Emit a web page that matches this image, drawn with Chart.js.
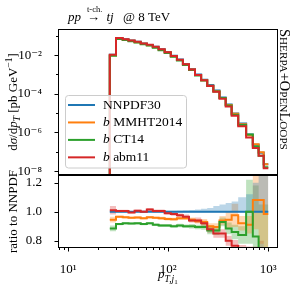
<!DOCTYPE html>
<html><head><meta charset="utf-8">
<script src="https://cdn.jsdelivr.net/npm/chart.js@4.4.1/dist/chart.umd.min.js"></script>
<style>
html,body{margin:0;padding:0;background:#fff;}
#wrap{position:relative;width:292px;height:292px;overflow:hidden;background:#fff;}
canvas{position:absolute;left:0;}
#top{top:0;}
#bot{top:100px;}
</style></head><body>
<div id="wrap"><canvas id="bot" width="292" height="192"></canvas><canvas id="top" width="292" height="175"></canvas></div>
<script>
// ---- data ----
const edges = [26, 30, 35, 40, 46, 53, 61, 70, 80, 92, 106, 122, 140, 161, 185, 213, 245, 282, 325, 375, 430, 500, 600, 700, 800, 900, 1000];
const nnpdfXsec = [0.0105, 0.0759, 0.0661, 0.0575, 0.0490, 0.0407, 0.0339, 0.0269, 0.0200, 0.0145, 0.00933, 0.00589, 0.00347, 0.00191, 0.00100, 5.4e-4, 2.9e-4, 1.5e-4, 6.5e-5, 2.8e-5, 9.5e-6, 2.9e-6, 7.8e-7, 2.3e-7, 8.9e-8, 2.3e-8];
const ratioNNPDF = [1,1,1,1,1,1,1,1,1,1,1,1,1,1,1,1,1,1,1,1,1,1,1,1,1,1];
const ratioMMHT = [0.945, 0.965, 0.962, 0.958, 0.960, 0.955, 0.962, 0.958, 0.955, 0.950, 0.948, 0.955, 0.955, 0.945, 0.935, 0.930, 0.900, 0.895, 0.940, 0.945, 0.975, 0.920, 0.910, 1.080, 1.080, 0.985];
const ratioCT14 = [0.885, 0.915, 0.920, 0.918, 0.920, 0.915, 0.920, 0.910, 0.905, 0.905, 0.900, 0.905, 0.900, 0.900, 0.895, 0.895, 0.870, 0.870, 0.930, 0.885, 0.860, 0.840, 1.000, 0.830, 0.700, 0.700];
const ratioABM11 = [1.010, 1.005, 1.005, 0.995, 1.007, 1.000, 1.015, 1.005, 1.005, 0.990, 0.985, 0.975, 0.965, 0.940, 0.940, 0.920, 0.880, 0.850, 0.850, 0.800, 0.765, 0.720, 0.700, 0.680, 0.700, 0.620];
const bandNNPDFHi = [1.005, 1.004, 1.004, 1.004, 1.004, 1.004, 1.004, 1.005, 1.005, 1.006, 1.007, 1.008, 1.010, 1.012, 1.016, 1.020, 1.025, 1.040, 1.050, 1.060, 1.070, 1.100, 1.120, 1.200, 1.300, 1.300];
const bandNNPDFLo = [0.995, 0.996, 0.996, 0.996, 0.996, 0.996, 0.996, 0.996, 0.996, 0.996, 0.995, 0.995, 0.995, 0.995, 0.995, 0.995, 0.995, 0.995, 0.995, 0.995, 0.995, 0.995, 0.995, 0.995, 0.995, 0.995];
const uncMMHT = [0.020, 0.008, 0.008, 0.008, 0.008, 0.008, 0.008, 0.008, 0.010, 0.010, 0.010, 0.012, 0.012, 0.015, 0.015, 0.020, 0.020, 0.025, 0.030, 0.060, 0.080, 0.050, 0.060, 0.200, 0.300, 0.300];
const uncCT14 = [0.020, 0.008, 0.008, 0.008, 0.008, 0.008, 0.008, 0.008, 0.010, 0.010, 0.010, 0.012, 0.012, 0.015, 0.015, 0.020, 0.025, 0.030, 0.030, 0.040, 0.050, 0.060, 0.220, 0.350, 0.350, 0.350];
const uncABM11 = [0.030, 0.008, 0.008, 0.008, 0.008, 0.008, 0.010, 0.010, 0.010, 0.010, 0.012, 0.012, 0.015, 0.015, 0.020, 0.020, 0.025, 0.030, 0.030, 0.035, 0.040, 0.050, 0.060, 0.080, 0.100, 0.100];
const seriesNames = ['NNPDF30', 'b MMHT2014', 'b CT14', 'b abm11'];
const xTickVals = [10, 100, 1000];
const xTickLabels = ['10\u00B9', '10\u00B2', '10\u00B3'];
const yTickVals = [1e-2, 1e-4, 1e-6, 1e-8];
const yTickLabels = ['10\u207B\u00B2', '10\u207B\u2074', '10\u207B\u2076', '10\u207B\u2078'];
const rTickVals = [0.8, 1.0, 1.2];
const rTickLabels = ['0.8', '1.0', '1.2'];

// ---- styles ----
const COLORS = ['#1f77b4', '#ff7f0e', '#2ca02c', '#d62728'];
const BANDS = ['rgba(31,119,180,0.3)', 'rgba(255,127,14,0.3)', 'rgba(44,160,44,0.3)', 'rgba(214,39,40,0.3)'];
const SERIF = '"Liberation Serif", "DejaVu Serif", serif';
const XMIN = 7.89, XMAX = 1241.6;
const LEFT = 58, RIGHTPAD = 14.3;

function stepPts(vals) {
  const p = vals.map((v, i) => ({x: edges[i], y: v}));
  p.push({x: edges[edges.length - 1], y: vals[vals.length - 1]});
  return p;
}
const ratios = [ratioNNPDF, ratioMMHT, ratioCT14, ratioABM11];
const uncs = [null, uncMMHT, uncCT14, uncABM11];
function noPad(s) { s.paddingTop = 0; s.paddingBottom = 0; s.paddingLeft = 0; s.paddingRight = 0; }

function drawRuns(ctx, x, y, runs) {
  for (const r of runs) { ctx.font = r.f; ctx.fillText(r.t, x, y + (r.dy || 0)); x += ctx.measureText(r.t).width; }
  return x;
}
function runsWidth(ctx, runs) {
  let w = 0; for (const r of runs) { ctx.font = r.f; w += ctx.measureText(r.t).width; } return w;
}
function frameTicks(chart, opts) {
  const {ctx, chartArea: a} = chart;
  ctx.save();
  ctx.strokeStyle = '#000'; ctx.lineWidth = 1;
  const L = Math.round(a.left), R = Math.round(a.right), T = Math.round(a.top), B = Math.round(a.bottom);
  ctx.strokeRect(L + 0.5, T + 0.5, R - L - 1, B - T - 1);
  const ys = chart.scales.y;
  ctx.beginPath();
  for (const t of ys.ticks) { const py = Math.round(ys.getPixelForValue(t.value)) + 0.5; ctx.moveTo(L - 3.5, py); ctx.lineTo(L, py); }
  if (opts.yMinor) for (const v of opts.yMinor) { const py = Math.round(ys.getPixelForValue(v)) + 0.5; ctx.moveTo(L - 2, py); ctx.lineTo(L, py); }
  if (opts.xTicks) {
    const xs = chart.scales.x;
    for (const t of xs.ticks) { const px = Math.round(xs.getPixelForValue(t.value)) + 0.5; ctx.moveTo(px, B); ctx.lineTo(px, B + 3.5); }
    for (let d = 1; d <= 1000; d *= 10) for (let m = 2; m <= 9; m++) {
      const v = d * m; if (v < XMIN || v > XMAX) continue;
      const px = Math.round(xs.getPixelForValue(v)) + 0.5; ctx.moveTo(px, B); ctx.lineTo(px, B + 2);
    }
  }
  ctx.stroke();
  ctx.restore();
}

// ---------------- top panel ----------------
const topDatasets = [];
for (let k = 3; k >= 0; k--) {
  const vals = nnpdfXsec.map((v, i) => v * ratios[k][i]);
  topDatasets.push({
    label: seriesNames[k], data: [{x: edges[0], y: 1e-12}].concat(stepPts(vals)),
    borderColor: COLORS[k], borderWidth: 2, pointRadius: 0, stepped: true, fill: false, clip: 0,
    borderJoinStyle: 'miter', order: 4 - k
  });
}
const topPlugin = {
  id: 'topdeco',
  afterDraw(chart) {
    frameTicks(chart, {yMinor: [1e-1, 1e-3, 1e-5, 1e-7]});
    const ctx = chart.ctx;
    ctx.save();
    ctx.fillStyle = '#000'; ctx.textAlign = 'left'; ctx.textBaseline = 'alphabetic';
    drawRuns(ctx, 68, 20.5, [{t: 'pp', f: 'italic 13px ' + SERIF}]);
    ctx.font = '13px ' + SERIF; ctx.fillText('\u2192', 87, 20.5);
    ctx.font = '8.5px ' + SERIF; ctx.fillText('t-ch.', 87, 11.5);
    drawRuns(ctx, 106.5, 20.5, [{t: 'tj', f: 'italic 13px ' + SERIF}]);
    drawRuns(ctx, 123, 20.5, [{t: '@ 8 TeV', f: '13px ' + SERIF}]);
    ctx.save();
    ctx.translate(17, 102); ctx.rotate(-Math.PI / 2);
    const yt = [
      {t: 'd', f: '13px ' + SERIF}, {t: '\u03C3', f: 'italic 13px ' + SERIF}, {t: '/d', f: '13px ' + SERIF},
      {t: 'p', f: 'italic 13px ' + SERIF}, {t: 'T', f: 'italic 9.5px ' + SERIF, dy: 3},
      {t: ' [pb GeV', f: '13px ' + SERIF}, {t: '\u22121', f: '9.5px ' + SERIF, dy: -5}, {t: ']', f: '13px ' + SERIF}
    ];
    drawRuns(ctx, -runsWidth(ctx, yt) / 2, 0, yt);
    ctx.restore();
    ctx.save();
    ctx.translate(280, 29); ctx.rotate(Math.PI / 2);
    const big = 13.5, small = 10.5;
    let rt = (b, s) => [
      {t: 'S', f: b + 'px ' + SERIF}, {t: 'HERPA', f: s + 'px ' + SERIF}, {t: '+', f: b + 'px ' + SERIF},
      {t: 'O', f: b + 'px ' + SERIF}, {t: 'PEN', f: s + 'px ' + SERIF}, {t: 'L', f: b + 'px ' + SERIF}, {t: 'OOPS', f: s + 'px ' + SERIF}
    ];
    const kk = 121 / runsWidth(ctx, rt(big, small));
    drawRuns(ctx, 0, 0, rt(big * kk, small * kk));
    ctx.restore();
    ctx.save();
    ctx.beginPath();
    if (ctx.roundRect) ctx.roundRect(65.5, 95.5, 121, 72.5, 3); else ctx.rect(65.5, 95.5, 121, 72.5);
    ctx.fillStyle = 'rgba(255,255,255,0.8)'; ctx.fill();
    ctx.strokeStyle = '#cccccc'; ctx.lineWidth = 1; ctx.stroke();
    ctx.textBaseline = 'middle';
    for (let i = 0; i < 4; i++) {
      const y = 105 + i * 17.45;
      ctx.strokeStyle = COLORS[i]; ctx.lineWidth = 2;
      ctx.beginPath(); ctx.moveTo(68, y); ctx.lineTo(95, y); ctx.stroke();
      ctx.fillStyle = '#000';
      const nm = seriesNames[i];
      if (nm.startsWith('b ')) drawRuns(ctx, 103, y, [{t: 'b', f: 'italic 13.5px ' + SERIF}, {t: nm.slice(1), f: '13.5px ' + SERIF}]);
      else drawRuns(ctx, 103, y, [{t: nm, f: '13.5px ' + SERIF}]);
    }
    ctx.restore();
    ctx.restore();
  }
};
new Chart(document.getElementById('top'), {
  type: 'line',
  data: {datasets: topDatasets},
  options: {
    responsive: false, animation: false, devicePixelRatio: 1,
    layout: {padding: {top: 29, right: RIGHTPAD, left: 0, bottom: 0}},
    plugins: {legend: {display: false}, tooltip: {enabled: false}},
    scales: {
      x: {type: 'logarithmic', min: XMIN, max: XMAX, display: false},
      y: {
        type: 'logarithmic', min: Math.pow(10, -8.2), max: Math.pow(10, -0.646),
        grid: {display: false}, border: {display: false},
        afterBuildTicks: s => { s.ticks = yTickVals.map(v => ({value: v})); },
        afterFit: s => { s.width = LEFT; noPad(s); },
        ticks: {padding: 8, color: '#000', font: {family: SERIF, size: 13}, autoSkip: false,
                callback: (v, i) => yTickLabels[i]}
      }
    }
  },
  plugins: [topPlugin]
});

// ---------------- ratio panel ----------------
const botDatasets = [];
for (let k = 3; k >= 0; k--) {
  botDatasets.push({
    label: seriesNames[k], data: stepPts(ratios[k]), borderColor: COLORS[k], borderWidth: 2,
    pointRadius: 0, stepped: true, fill: false, clip: 0, borderJoinStyle: 'miter', order: 4 - k
  });
}
for (let k = 0; k < 4; k++) {
  const hi = k === 0 ? bandNNPDFHi : ratios[k].map((r, i) => r + uncs[k][i]);
  const lo = k === 0 ? bandNNPDFLo : ratios[k].map((r, i) => r - uncs[k][i]);
  botDatasets.push({data: stepPts(hi), borderWidth: 0, pointRadius: 0, stepped: true, fill: false, clip: 0, order: 10 + k, borderColor: 'rgba(0,0,0,0)'});
  botDatasets.push({data: stepPts(lo), borderWidth: 0, pointRadius: 0, stepped: true, fill: '-1', clip: 0, order: 10 + k,
                    borderColor: 'rgba(0,0,0,0)', backgroundColor: BANDS[k]});
}
const OFF = 100;
const botPlugin = {
  id: 'botdeco',
  afterDraw(chart) {
    frameTicks(chart, {xTicks: true});
    const ctx = chart.ctx;
    ctx.save();
    ctx.fillStyle = '#000'; ctx.textAlign = 'left'; ctx.textBaseline = 'alphabetic';
    const xt = [{t: 'p', f: 'italic 13px ' + SERIF}, {t: 'T,j', f: 'italic 9.5px ' + SERIF, dy: 3.5}, {t: '1', f: '7px ' + SERIF, dy: 6}];
    const cx = (chart.chartArea.left + chart.chartArea.right) / 2;
    drawRuns(ctx, cx - runsWidth(ctx, xt) / 2, 278 - OFF, xt);
    ctx.save();
    ctx.translate(17, (chart.chartArea.top + chart.chartArea.bottom) / 2); ctx.rotate(-Math.PI / 2);
    const rt = [{t: 'ratio to NNPDF', f: '13px ' + SERIF}];
    drawRuns(ctx, -runsWidth(ctx, rt) / 2, 0, rt);
    ctx.restore();
    ctx.restore();
  }
};
new Chart(document.getElementById('bot'), {
  type: 'line',
  data: {datasets: botDatasets},
  options: {
    responsive: false, animation: false, devicePixelRatio: 1,
    layout: {padding: {top: 75, right: RIGHTPAD, left: 0, bottom: 0}},
    plugins: {legend: {display: false}, tooltip: {enabled: false}, filler: {propagate: false}},
    scales: {
      x: {
        type: 'logarithmic', min: XMIN, max: XMAX,
        grid: {display: false}, border: {display: false},
        afterBuildTicks: s => { s.ticks = xTickVals.map(v => ({value: v})); },
        afterFit: s => { s.height = 44; noPad(s); },
        ticks: {padding: 6, color: '#000', font: {family: SERIF, size: 13}, autoSkip: false, maxRotation: 0,
                callback: (v, i) => xTickLabels[i]}
      },
      y: {
        type: 'linear', min: 0.75, max: 1.253,
        grid: {display: false}, border: {display: false},
        afterBuildTicks: s => { s.ticks = rTickVals.map(v => ({value: v})); },
        afterFit: s => { s.width = LEFT; noPad(s); },
        ticks: {padding: 8, color: '#000', font: {family: SERIF, size: 13}, autoSkip: false,
                callback: (v, i) => rTickLabels[i]}
      }
    }
  },
  plugins: [botPlugin]
});
</script></body></html>
